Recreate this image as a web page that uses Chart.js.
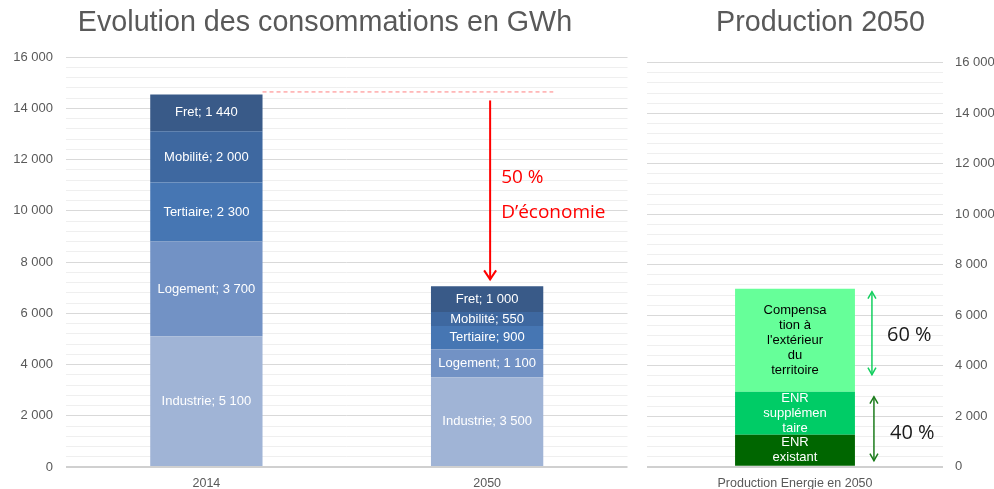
<!DOCTYPE html>
<html>
<head>
<meta charset="utf-8">
<script src="https://cdn.jsdelivr.net/npm/chart.js@4.4.1/dist/chart.umd.min.js"></script>
<style>
  html, body { margin: 0; padding: 0; background: #fff; }
  body { width: 994px; height: 489px; position: relative; overflow: hidden; }
  .box { position: absolute; top: 0; height: 489px; }
  #left { left: 0; width: 650px; }
  #right { left: 646px; width: 348px; }
</style>
</head>
<body>
<div class="box" id="left"><canvas id="chartConso"></canvas></div>
<div class="box" id="right"><canvas id="chartProd"></canvas></div>
<script>
// consommations (GWh)
const years = ["2014", "2050"];
const industrie = [5100, 3500];
const logement = [3700, 1100];
const tertiaire = [2300, 900];
const mobilite = [2000, 550];
const fret = [1440, 1000];

// production 2050 (GWh)
const prodCategory = ["Production Energie en 2050"];
const enrExistant = [1270];
const enrSupp = [1700];
const compensation = [4080];
const prodLabels = [
  ["ENR", "existant"],
  ["ENR", "supplémen", "taire"],
  ["Compensa", "tion à", "l'extérieur", "du", "territoire"]
];

// axis
const yMax = 16000;
const yMajor = 2000;
const yMinor = 400;

Chart.defaults.font.family = "'Liberation Sans', Arial, sans-serif";
Chart.defaults.animation = false;

function fmt(v){
  return String(v).replace(/\B(?=(\d{3})+(?!\d))/g, " ");
}

function yAxis(position, width, pad){
  return {
    position,
    stacked: true,
    min: 0,
    max: yMax,
    border: { display: false },
    grid: {
      drawTicks: false,
      color: c => c.tick.value === 0 ? "#d0d0d0" : (c.tick.value % yMajor === 0 ? "#d9d9d9" : "#efefef"),
      lineWidth: c => c.tick.value === 0 ? 2 : 1
    },
    ticks: {
      stepSize: yMinor,
      autoSkip: false,
      padding: pad,
      color: "#595959",
      font: { size: 13 },
      callback: v => v % yMajor === 0 ? fmt(v) : ""
    },
    afterFit: s => { s.width = width; }
  };
}

function xAxis(height){
  return {
    stacked: true,
    grid: { display: false, drawTicks: false },
    border: { display: false },
    ticks: { padding: 9, color: "#595959", font: { size: 12.5 } },
    afterFit: s => { s.height = height; }
  };
}

// empty box on the right of the first chart so the title centres like the original
const spacer = {
  position: "right",
  grid: { display: false, drawTicks: false },
  border: { display: false },
  ticks: { display: false },
  afterFit: s => { s.width = 22.5; }
};

const barLabels = {
  id: "barLabels",
  afterDatasetsDraw(chart){
    const ctx = chart.ctx;
    chart.data.datasets.forEach((ds, i) => {
      chart.getDatasetMeta(i).data.forEach((bar, j) => {
        const lines = ds.lines ? ds.lines : [ds.label + "; " + fmt(ds.data[j])];
        const cy = (bar.y + bar.base) / 2;
        const lh = 15;
        ctx.save();
        ctx.font = "13px 'Liberation Sans', Arial, sans-serif";
        ctx.fillStyle = ds.labelColor || "#fff";
        ctx.textAlign = "center";
        ctx.textBaseline = "middle";
        lines.forEach((t, k) => ctx.fillText(t, bar.x, cy + (k - (lines.length - 1) / 2) * lh));
        ctx.restore();
      });
    });
  }
};

function vee(ctx, x, y, dir, w, h){
  ctx.beginPath();
  ctx.moveTo(x - w, y - dir * h);
  ctx.lineTo(x, y);
  ctx.lineTo(x + w, y - dir * h);
  ctx.stroke();
}

const economie = {
  id: "economie",
  afterDatasetsDraw(chart){
    const ctx = chart.ctx;
    const n = chart.data.datasets.length;
    const top = chart.getDatasetMeta(n - 1).data;
    const yTop = top[0].y, yEnd = top[1].y;
    const x1 = top[0].x + top[0].width / 2;
    const x2 = top[1].x + top[1].width / 2 + 10;
    ctx.save();
    ctx.strokeStyle = "#ff7f7f";
    ctx.lineWidth = 1;
    ctx.setLineDash([4, 3]);
    ctx.beginPath();
    ctx.moveTo(x1, yTop - 2.5);
    ctx.lineTo(x2, yTop - 2.5);
    ctx.stroke();
    ctx.setLineDash([]);
    const ax = top[1].x + 3;
    const a0 = yTop + 6, a1 = yEnd - 7;
    ctx.strokeStyle = "#ff0000";
    ctx.lineWidth = 2;
    ctx.beginPath();
    ctx.moveTo(ax, a0);
    ctx.lineTo(ax, a1);
    ctx.stroke();
    vee(ctx, ax, a1, 1, 6, 9);
    ctx.fillStyle = "#ff0000";
    ctx.font = "19px 'Open Sans', sans-serif";
    ctx.textAlign = "left";
    ctx.textBaseline = "alphabetic";
    ctx.fillText("50 %", ax + 11, a0 + 83);
    ctx.fillText("D’économie", ax + 11, a0 + 118);
    ctx.restore();
  }
};

const partage = {
  id: "partage",
  afterDatasetsDraw(chart){
    const ctx = chart.ctx;
    const b0 = chart.getDatasetMeta(0).data[0];
    const b1 = chart.getDatasetMeta(1).data[0];
    const b2 = chart.getDatasetMeta(2).data[0];
    const right = b0.x + b0.width / 2;
    ctx.save();
    // 60 %
    let x = right + 17, ya = b2.y + 3, yb = b1.y - 17;
    ctx.strokeStyle = "#13cf5f";
    ctx.lineWidth = 1.5;
    ctx.beginPath(); ctx.moveTo(x, ya); ctx.lineTo(x, yb); ctx.stroke();
    vee(ctx, x, ya, -1, 4, 7);
    vee(ctx, x, yb, 1, 4, 7);
    // 40 %
    x = right + 19; ya = b1.y + 5; yb = b0.base - 5;
    ctx.strokeStyle = "#1c7c1c";
    ctx.beginPath(); ctx.moveTo(x, ya); ctx.lineTo(x, yb); ctx.stroke();
    vee(ctx, x, ya, -1, 4, 7);
    vee(ctx, x, yb, 1, 4, 7);
    ctx.fillStyle = "#1a1a1a";
    ctx.font = "20px 'Open Sans', sans-serif";
    ctx.textAlign = "left";
    ctx.textBaseline = "middle";
    ctx.fillText("60 %", right + 32, (b2.y + b1.y) / 2 - 5);
    ctx.fillText("40 %", right + 35, (b1.y + b0.base) / 2 + 5);
    ctx.restore();
  }
};

new Chart(document.getElementById("chartConso").getContext("2d"), {
  type: "bar",
  data: {
    labels: years,
    datasets: [
      { label: "Industrie", data: industrie, backgroundColor: "#a0b4d6" },
      { label: "Logement", data: logement, backgroundColor: "#7292c5" },
      { label: "Tertiaire", data: tertiaire, backgroundColor: "#4676b3" },
      { label: "Mobilité", data: mobilite, backgroundColor: "#3e68a0" },
      { label: "Fret", data: fret, backgroundColor: "#395a88" }
    ]
  },
  options: {
    responsive: true,
    maintainAspectRatio: false,
    layout: { padding: 0 },
    datasets: { bar: { barPercentage: 0.4, categoryPercentage: 1 } },
    plugins: {
      legend: { display: false },
      tooltip: { enabled: false },
      title: {
        display: true,
        text: "Evolution des consommations en GWh",
        color: "#595959",
        font: { size: 28.7, weight: "normal" },
        padding: { top: 6, bottom: 16.6 }
      }
    },
    scales: { x: xAxis(22), y: yAxis("left", 66, 13), pad: spacer }
  },
  plugins: [barLabels, economie]
});

new Chart(document.getElementById("chartProd").getContext("2d"), {
  type: "bar",
  data: {
    labels: prodCategory,
    datasets: [
      { label: "ENR existant", data: enrExistant, backgroundColor: "#006600", lines: prodLabels[0], labelColor: "#ffffff" },
      { label: "ENR supplémentaire", data: enrSupp, backgroundColor: "#00cc66", lines: prodLabels[1], labelColor: "#ffffff" },
      { label: "Compensation à l'extérieur du territoire", data: compensation, backgroundColor: "#66ff99", lines: prodLabels[2], labelColor: "#000000" }
    ]
  },
  options: {
    responsive: true,
    maintainAspectRatio: false,
    layout: { padding: { left: 1, right: 0, top: 0, bottom: 0 } },
    datasets: { bar: { barPercentage: 0.405, categoryPercentage: 1 } },
    plugins: {
      legend: { display: false },
      tooltip: { enabled: false },
      title: {
        display: true,
        text: "Production 2050",
        color: "#595959",
        font: { size: 28.7, weight: "normal" },
        padding: { top: 6, bottom: 22.3 }
      }
    },
    scales: { x: xAxis(22.3), y: yAxis("right", 51, 12) }
  },
  plugins: [barLabels, partage]
});
</script>
</body>
</html>
